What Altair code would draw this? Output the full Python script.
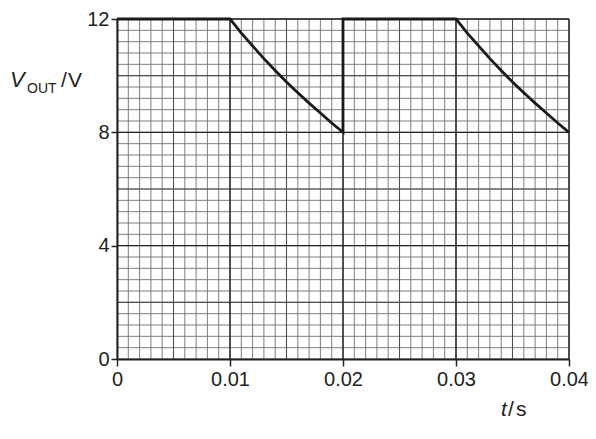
import altair as alt
import pandas as pd

# waveform data (t in s, V_OUT in V)
decay_v = [12.0, 11.5, 11.05, 10.6, 10.18, 9.78, 9.4, 9.03, 8.68, 8.33, 8.0]
t_first = [0.0] + [0.010 + 0.001 * i for i in range(11)]
v_first = [12.0] + decay_v
t_second = [0.020, 0.030] + [0.030 + 0.001 * i for i in range(1, 11)]
v_second = [12.0, 12.0] + decay_v[1:]
t_all = t_first + t_second
v_all = v_first + v_second

x_ticks = [0, 0.01, 0.02, 0.03, 0.04]
y_ticks = [0, 4, 8, 12]

minor_x = [round(0.001 * i, 4) for i in range(41)]
minor_y = [round(0.4 * i, 2) for i in range(31)]
mid_x = [0.005, 0.015, 0.025, 0.035]
mid_y = [2, 6, 10]
major_x = [0.01, 0.02, 0.03, 0.04]
major_y = [4, 8, 12]

FONT = "Liberation Sans"
W, H = 452, 340

xs = alt.Scale(domain=[0, 0.04], nice=False, zero=False)
ys = alt.Scale(domain=[0, 12], nice=False, zero=False)

x_axis = alt.Axis(
    values=x_ticks, format="~g", title=None, grid=False, zindex=2,
    labelFont=FONT, labelFontSize=20, labelColor="#222", labelFlush=False,
    tickColor="#222", tickSize=7, tickWidth=1.5,
    domainColor="#222", domainWidth=2, labelPadding=3)
y_axis = alt.Axis(
    values=y_ticks, title=None, grid=False, zindex=2,
    labelFont=FONT, labelFontSize=20, labelColor="#222", labelFlush=False,
    tickColor="#222", tickSize=6, tickWidth=1.5,
    domainColor="#222", domainWidth=2, labelPadding=2)

def vrules(vals, color, width):
    return alt.Chart(pd.DataFrame({"t": vals})).mark_rule(
        color=color, strokeWidth=width
    ).encode(x=alt.X("t:Q", scale=xs, axis=x_axis))

def hrules(vals, color, width):
    return alt.Chart(pd.DataFrame({"v": vals})).mark_rule(
        color=color, strokeWidth=width
    ).encode(y=alt.Y("v:Q", scale=ys, axis=y_axis))

df = pd.DataFrame({"t": t_all, "v": v_all, "o": list(range(len(t_all)))})

line = alt.Chart(df).mark_line(color="#1a1a1a", strokeWidth=2.8, strokeJoin="miter").encode(
    x=alt.X("t:Q", scale=xs, axis=x_axis),
    y=alt.Y("v:Q", scale=ys, axis=y_axis),
    order="o:Q",
)

def txt(s, x, y, size, style="normal", align="left"):
    return alt.Chart(pd.DataFrame({"s": [s]})).mark_text(
        font=FONT, fontSize=size, fontStyle=style, align=align,
        baseline="alphabetic", color="#222"
    ).encode(text="s:N", x=alt.value(x), y=alt.value(y))

labels = [
    txt("V", 10 - 117, 87 - 19, 22, "italic"),
    txt("OUT", 27 - 117, 93 - 19, 14),
    txt("/", 61 - 117, 87 - 19, 21),
    txt("V", 68 - 117, 87 - 19, 21),
    txt("t", 501 - 117, 416 - 19, 21, "italic"),
    txt("/", 508 - 117, 416 - 19, 21),
    txt("s", 516 - 117, 416 - 19, 21),
]

chart = alt.layer(
    vrules(minor_x, "#707070", 0.9),
    hrules(minor_y, "#707070", 0.9),
    vrules(mid_x, "#505050", 1.1),
    hrules(mid_y, "#505050", 1.1),
    vrules(major_x, "#222222", 1.4),
    hrules(major_y, "#222222", 1.4),
    line,
    *labels,
).properties(
    width=W, height=H,
    autosize=alt.AutoSizeParams(type="none"),
    padding={"left": 109, "top": 11, "right": 19, "bottom": 64},
).configure_view(stroke=None).configure(background="white")

chart.save("out.html", embed_options={"renderer": "svg", "actions": False})
